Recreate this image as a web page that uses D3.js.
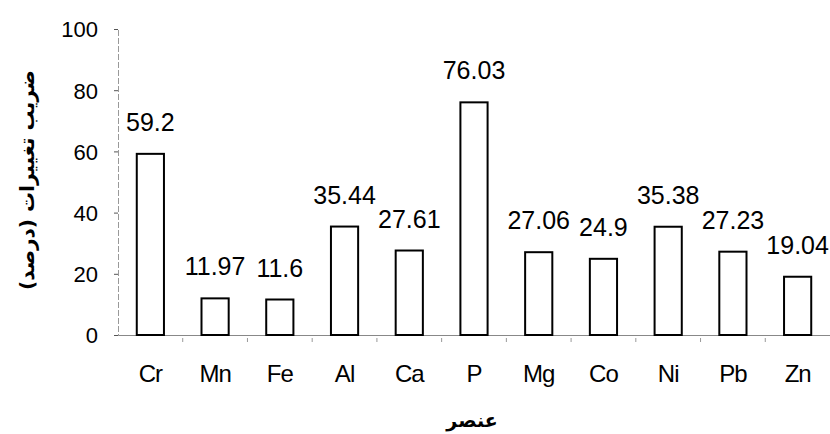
<!DOCTYPE html>
<html><head><meta charset="utf-8">
<script src="https://cdn.jsdelivr.net/npm/d3@7"></script>
<style>body{margin:0;background:#fff}</style>
</head><body><svg id="c" width="830" height="434"></svg>
<script>
const categories = ["Cr","Mn","Fe","Al","Ca","P","Mg","Co","Ni","Pb","Zn"];
const values = [59.2,11.97,11.6,35.44,27.61,76.03,27.06,24.9,35.38,27.23,19.04];
const valueLabels = ["59.2","11.97","11.6","35.44","27.61","76.03","27.06","24.9","35.38","27.23","19.04"];
const yTicks = [0,20,40,60,80,100];
const yTitle = "ضریب تغییرات (درصد)";
const xTitle = "عنصر";

(function(){
const svg = d3.select("#c");
const mL = 118, mR = 830, mT = 29, mB = 335;
const x = d3.scaleBand().domain(categories).range([mL, mR]).paddingInner(0.58).paddingOuter(0.29);
const y = d3.scaleLinear().domain([0,100]).range([mB, mT]);
const font = "'Liberation Sans', Arial, sans-serif";

// y axis
const ya = svg.append("g").attr("transform", `translate(${mL},0)`)
  .call(d3.axisLeft(y).tickValues(yTicks).tickSize(4).tickPadding(16));
ya.select(".domain").attr("stroke","#999").attr("stroke-dasharray","6,2");
ya.selectAll(".tick line").attr("stroke","#555");
ya.selectAll("text").attr("font-family",font).attr("font-size",22).attr("fill","#000").attr("dy","0.36em");

// x axis
const xa = svg.append("g").attr("transform", `translate(0,${mB})`)
  .call(d3.axisBottom(x).tickSize(0).tickPadding(0));
xa.select(".domain").attr("stroke","#888");
xa.selectAll("text").attr("font-family",font).attr("font-size",24).attr("fill","#000")
  .attr("letter-spacing","-1").attr("dy",null).attr("y",47);
// boundary ticks
const step = x.step();
const bounds = d3.range(1, categories.length).map(i => x(categories[i]) - (step - x.bandwidth())/2);
svg.append("g").selectAll("line").data(bounds).join("line")
  .attr("x1", d => d).attr("x2", d => d).attr("y1", mB+3).attr("y2", mB+7)
  .attr("stroke","#999");

// bars
svg.append("g").selectAll("rect").data(values).join("rect")
  .attr("x", (d,i) => x(categories[i]))
  .attr("width", x.bandwidth())
  .attr("y", d => y(d))
  .attr("height", d => y(0) - y(d))
  .attr("fill","#fff").attr("stroke","#000").attr("stroke-width",2);

// value labels
svg.append("g").selectAll("text").data(values).join("text")
  .attr("x", (d,i) => x(categories[i]) + x.bandwidth()/2)
  .attr("y", d => y(d) - 23)
  .attr("text-anchor","middle")
  .attr("font-family",font).attr("font-size",25)
  .text((d,i) => valueLabels[i]);

// titles
svg.append("text").attr("transform","translate(34,180) rotate(-90)")
  .attr("text-anchor","middle").attr("font-family","'DejaVu Sans', sans-serif")
  .attr("font-weight","bold").attr("font-size",20).attr("direction","rtl").text(yTitle);
svg.append("text").attr("x",472).attr("y",427)
  .attr("text-anchor","middle").attr("font-family","'DejaVu Sans', sans-serif")
  .attr("font-weight","bold").attr("font-size",19).attr("direction","rtl").text(xTitle);
})();
</script></body></html>
